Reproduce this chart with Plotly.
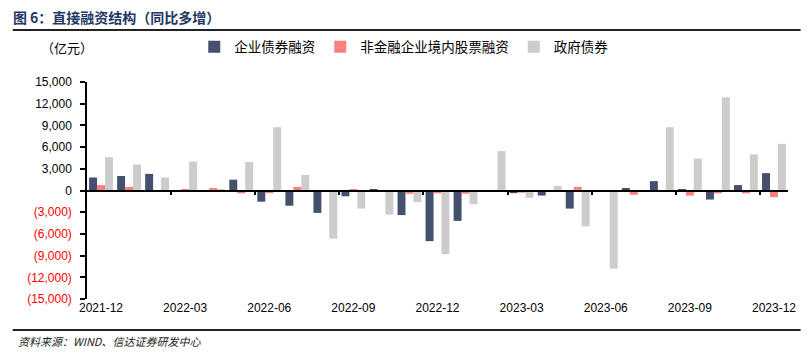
import plotly.graph_objects as go

months = ["2021-12", "2022-01", "2022-02", "2022-03", "2022-04", "2022-05", "2022-06",
          "2022-07", "2022-08", "2022-09", "2022-10", "2022-11", "2022-12",
          "2023-01", "2023-02", "2023-03", "2023-04", "2023-05", "2023-06",
          "2023-07", "2023-08", "2023-09", "2023-10", "2023-11", "2023-12"]

corp_bond = [1800, 2000, 2300, -50, 0, 1500, -1550, -2100, -3100, -800, 150, -3400, -7000,
             -4200, 0, -370, -700, -2500, 50, 350, 1300, 200, -1250, 750, 2400]
equity = [750, 500, -80, 200, 350, -400, -370, 500, -100, 200, 0, -460, -400,
          -450, 0, -300, -50, 500, 0, -600, -200, -700, -400, -400, -920]
gov_bond = [4600, 3600, 1800, 4000, 200, 3950, 8750, 2150, -6650, -2500, -3350, -1600, -8800,
            -1900, 5450, -1000, 650, -4950, -10800, 0, 8750, 4400, 12900, 5000, 6450]

series_names = ["企业债券融资", "非金融企业境内股票融资", "政府债券"]
series_colors = ["#44506E", "#FF8080", "#CCCCCC"]

y_ticks = list(range(-15000, 15001, 3000))


def fmt(v):
    if v < 0:
        return '<span style="color:#FF0000">(' + f"{-v:,}" + ')</span>'
    return f"{v:,}"


y_text = [fmt(v) for v in y_ticks]

fig = go.Figure()
for name, vals, col in zip(series_names, [corp_bond, equity, gov_bond], series_colors):
    fig.add_trace(go.Bar(x=months, y=vals, name=name, marker=dict(color=col, line=dict(width=0))))

# invisible helper trace for the zero-line axis
fig.add_trace(go.Scatter(x=[0], y=[0], xaxis="x2", mode="none", showlegend=False, hoverinfo="skip"))

boundary_ticks = [i - 0.5 for i in range(3, len(months), 3)]

fig.update_layout(
    width=808, height=355,
    margin=dict(l=87, r=13, t=82, b=56),
    paper_bgcolor="white", plot_bgcolor="white",
    barmode="group", bargap=0.15, bargroupgap=0,
    font=dict(family="Liberation Sans, Arial, sans-serif", size=12, color="#000"),
    title=dict(text="<b>图 6：直接融资结构（同比多增）</b>", x=0.016, xanchor="left",
               y=1 - 18 / 355, yanchor="middle", xref="container", yref="container",
               font=dict(family="Noto Sans CJK SC", size=14, color="#1F3864")),
    legend=dict(orientation="h", x=0.153, xanchor="left", y=1.161, yanchor="middle",
                font=dict(family="Noto Sans CJK SC", size=13.5, color="#000"),
                bgcolor="rgba(0,0,0,0)", itemclick=False),
    xaxis=dict(type="category", range=[-0.5, len(months) - 0.5],
               tickvals=months[::3], ticktext=months[::3],
               showline=False, ticks="", showgrid=False, zeroline=False,
               tickfont=dict(size=12)),
    xaxis2=dict(overlaying="x", anchor="free", position=0.5, range=[-0.5, len(months) - 0.5],
                showline=True, linecolor="#000", linewidth=1.5,
                tickmode="array", tickvals=boundary_ticks, ticks="outside", ticklen=4,
                tickwidth=1.5, tickcolor="#000", showticklabels=False, showgrid=False, zeroline=False),
    yaxis=dict(range=[-15000, 15000], tickvals=y_ticks, ticktext=y_text,
               showline=True, linecolor="#000", linewidth=1.5, ticks="outside", ticklen=5,
               tickwidth=1.5, tickcolor="#000", showgrid=False, zeroline=False,
               tickfont=dict(size=12), ticklabelstandoff=6),
    showlegend=True,
)

fig.add_annotation(text="（亿元）", xref="paper", yref="paper", x=-0.028, y=1.161,
                   xanchor="center", yanchor="middle", showarrow=False,
                   font=dict(family="Noto Sans CJK SC", size=13, color="#000"))
fig.add_annotation(text="<i>资料来源：WIND、信达证券研发中心</i>", xref="paper", yref="paper",
                   x=-0.1017, y=-0.1935, xanchor="left", yanchor="middle", showarrow=False,
                   font=dict(family="Noto Sans CJK SC", size=11, color="#222"))

fig.add_shape(type="line", xref="paper", yref="paper", x0=-0.106, x1=1.018, y0=1.2396, y1=1.2396,
              line=dict(color="#222", width=2))
fig.add_shape(type="line", xref="paper", yref="paper", x0=-0.106, x1=1.018, y0=-0.1429, y1=-0.1429,
              line=dict(color="#222", width=2))

fig.write_html("out.html", config={"displayModeBar": False},
               post_script="document.body.style.margin='0';document.body.style.overflow='hidden';")
